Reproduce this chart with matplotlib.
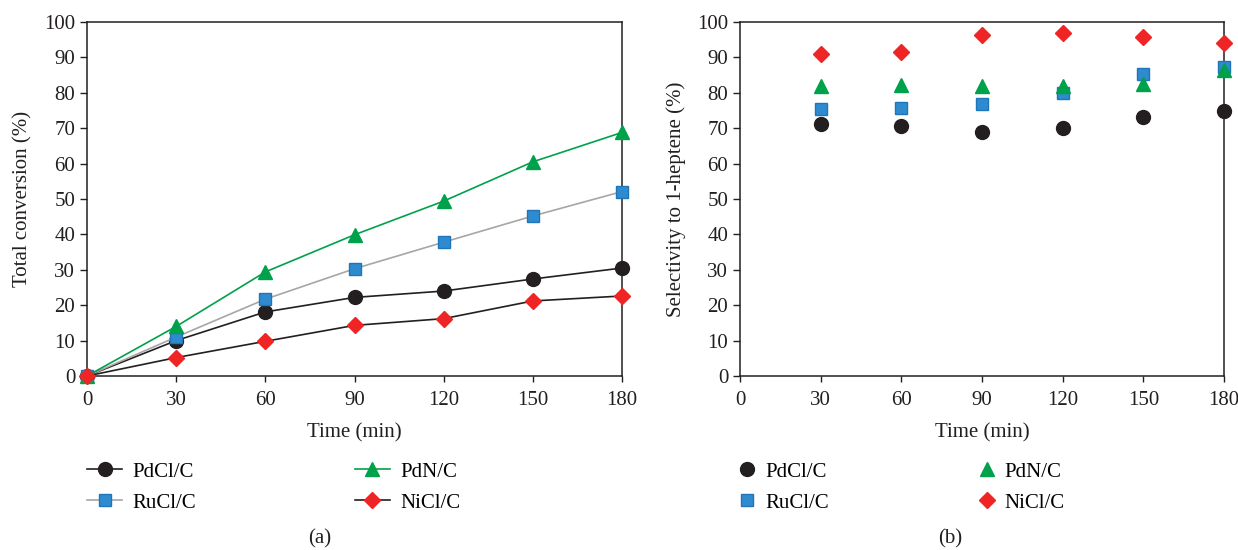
import matplotlib
matplotlib.use("Agg")
import matplotlib.pyplot as plt

plt.rcParams['font.family'] = ['Liberation Serif', 'DejaVu Serif']

time_a = [0, 30, 60, 90, 120, 150, 180]
conv_pdcl = [0, 10.0, 18.1, 22.2, 24.0, 27.4, 30.5]
conv_rucl = [0, 11.0, 21.7, 30.3, 37.8, 45.2, 52.1]
conv_pdn = [0, 14.0, 29.4, 39.9, 49.4, 60.5, 68.8]
conv_nicl = [0, 5.2, 9.8, 14.3, 16.2, 21.2, 22.6]

time_b = [30, 60, 90, 120, 150, 180]
sel_pdcl = [71.1, 70.5, 69.0, 70.1, 73.2, 74.8]
sel_rucl = [75.3, 75.7, 76.8, 79.9, 85.2, 87.2]
sel_pdn = [81.8, 82.1, 81.8, 81.8, 82.6, 86.5]
sel_nicl = [91.0, 91.6, 96.3, 97.0, 95.9, 94.1]

labels = ['PdCl/C', 'RuCl/C', 'PdN/C', 'NiCl/C']
xticks = [0, 30, 60, 90, 120, 150, 180]
yticks = list(range(0, 101, 10))

BLACK = '#231f20'
BLUE = '#2e8bcf'
BLUE_E = '#1f75b8'
GREEN = '#00a14b'
RED = '#ee2524'
GREY = '#a6a6a6'

FS = 15

fig = plt.figure(figsize=(12.38, 5.5), dpi=100)
ax1 = fig.add_axes([87/1238, 1-376/550, 535/1238, 354/550])
ax2 = fig.add_axes([740/1238, 1-376/550, 484/1238, 354/550])

styles = [
    dict(color=BLACK, marker='o', mfc=BLACK, mec=BLACK, ms=10),
    dict(color=GREY, marker='s', mfc=BLUE, mec=BLUE_E, ms=9),
    dict(color=GREEN, marker='^', mfc=GREEN, mec=GREEN, ms=10.5),
    dict(color=BLACK, marker='D', mfc=RED, mec=RED, ms=8),
]

series_a = [conv_pdcl, conv_rucl, conv_pdn, conv_nicl]
handles_a = []
for vals, st, lab in zip(series_a, styles, labels):
    ln, = ax1.plot(time_a, vals, lw=1.2, clip_on=False, zorder=3, label=lab,
                   color=st['color'], marker=st['marker'], mfc=st['mfc'],
                   mec=st['mec'], ms=st['ms'])
    handles_a.append(ln)

series_b = [sel_pdcl, sel_rucl, sel_pdn, sel_nicl]
handles_b = []
for vals, st, lab in zip(series_b, styles, labels):
    ln, = ax2.plot(time_b, vals, clip_on=False, zorder=3, label=lab,
                   marker=st['marker'], mfc=st['mfc'], mec=st['mec'], ms=st['ms'],
                   linestyle='none')
    handles_b.append(ln)

for ax, ylab in [(ax1, 'Total conversion (%)'), (ax2, 'Selectivity to 1-heptene (%)')]:
    ax.set_xlim(0, 180)
    ax.set_ylim(0, 100)
    ax.set_xticks(xticks)
    ax.set_yticks(yticks)
    ax.tick_params(direction='out', length=5, width=1, labelsize=FS, colors=BLACK)
    ax.tick_params(axis='x', length=4, pad=7)
    for s in ax.spines.values():
        s.set_linewidth(1.1)
        s.set_color(BLACK)
    ax.set_xlabel('Time (min)', fontsize=FS, color=BLACK, labelpad=9)
    ax.set_ylabel(ylab, fontsize=FS, color=BLACK, labelpad=8)

ax1.legend(handles=handles_a, loc='upper left', bbox_to_anchor=(0, -0.243), ncol=2,
           frameon=False, fontsize=FS, handlelength=1.7, handletextpad=0.5,
           columnspacing=7.6, borderpad=0, borderaxespad=0, labelspacing=0.55)
ax2.legend(handles=handles_b, loc='upper left', bbox_to_anchor=(-0.002, -0.243), ncol=2,
           frameon=False, fontsize=FS, handlelength=0.8, handletextpad=0.45,
           columnspacing=7.2, borderpad=0, borderaxespad=0, labelspacing=0.55)

fig.text(320/1238, 1-539/550, '(a)', ha='center', va='center', fontsize=FS, color=BLACK)
fig.text(950/1238, 1-539/550, '(b)', ha='center', va='center', fontsize=FS, color=BLACK)

fig.savefig('out.png', dpi=100)
